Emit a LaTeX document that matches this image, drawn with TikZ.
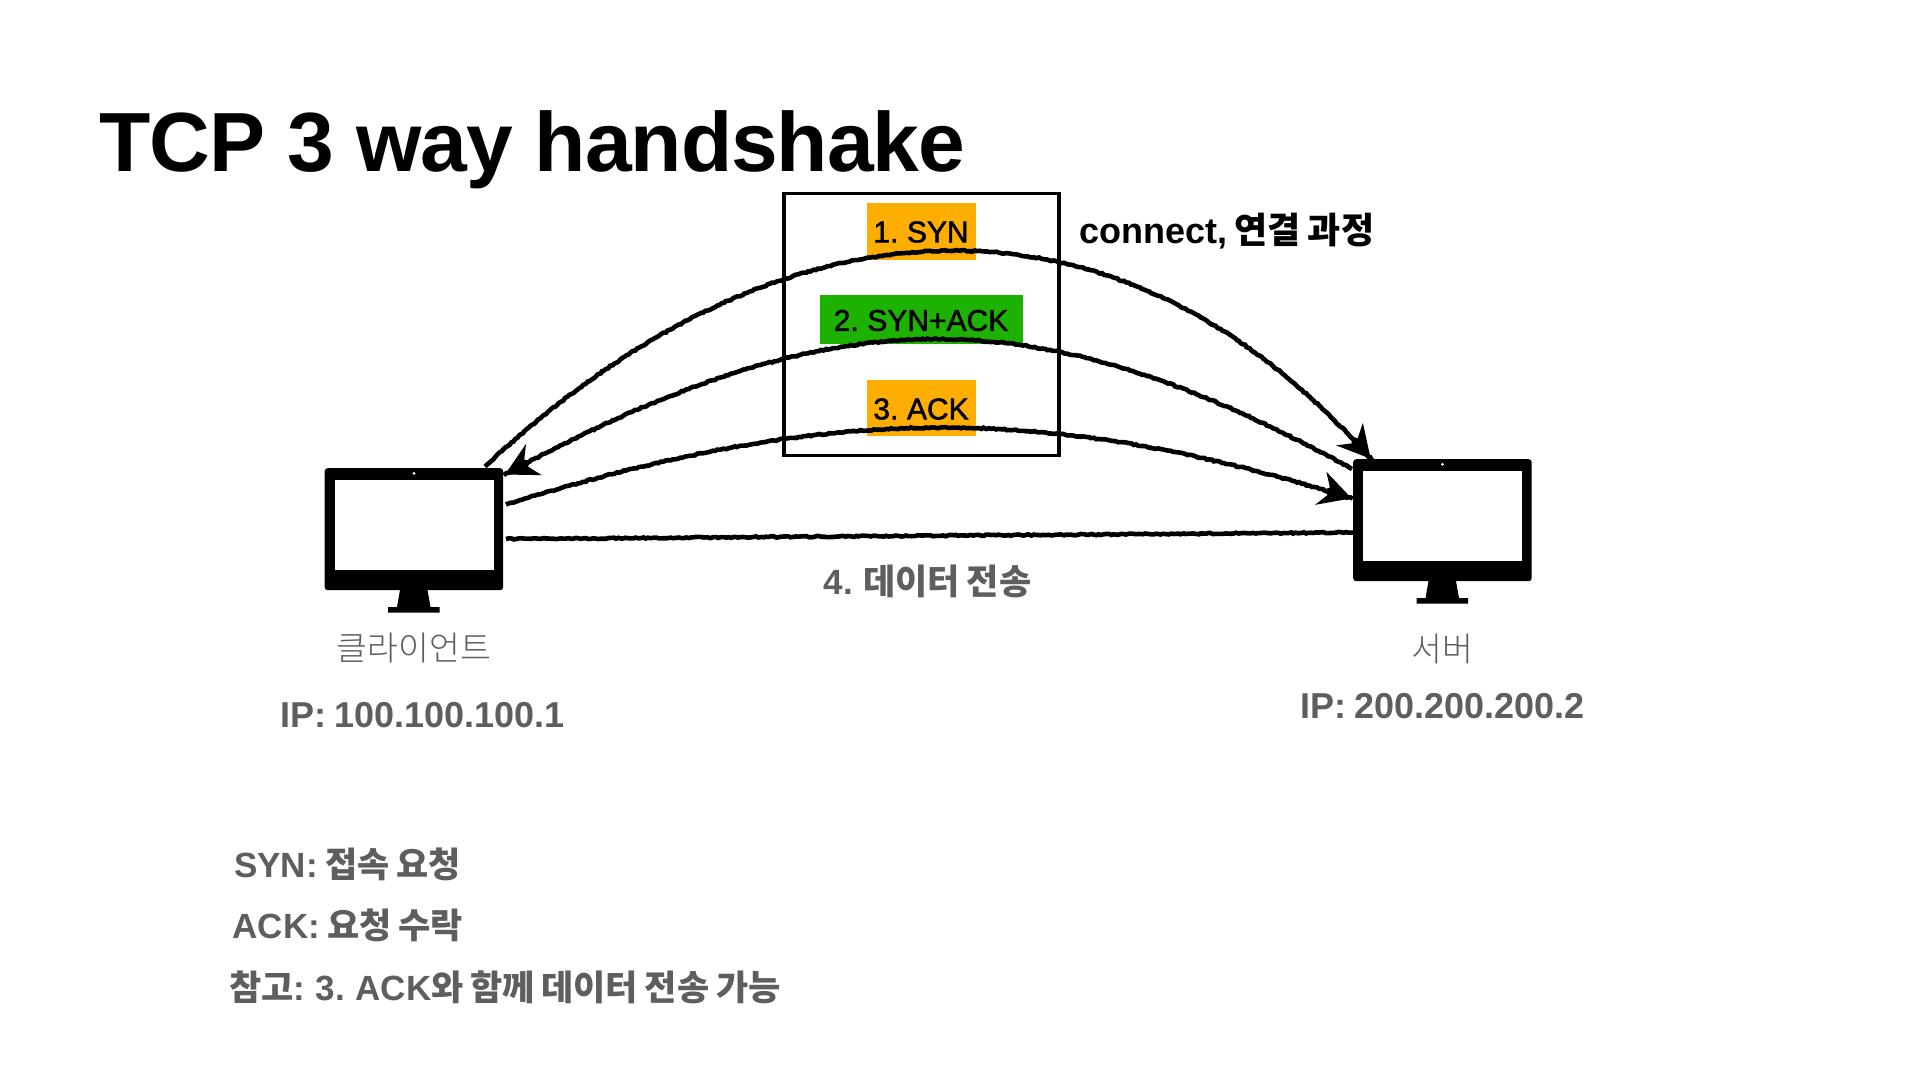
\documentclass[tikz,border=0pt]{standalone}
\usepackage{fontspec}
\setmainfont[WordSpace=.75]{Liberation Sans}
\newfontfamily\kr[WordSpace=.85]{Noto Sans CJK KR Medium}
\newfontfamily\krlight{Noto Sans CJK KR Light}
\newfontfamily\medfont[FakeBold=1.6,WordSpace=.7]{Liberation Sans}
\newfontfamily\titlefont[LetterSpace=-1.3]{Liberation Sans}
\usetikzlibrary{decorations.markings, decorations.pathmorphing}
\definecolor{packetorange}{HTML}{FEAE00}
\definecolor{packetgreen}{HTML}{1DB100}
\definecolor{labelgrey}{HTML}{5E5E5E}
\tikzset{
    rough/.style={
        draw, line width=4.6pt, decorate,
        decoration={random steps, segment length=2.5pt, amplitude=.7pt}
    },
    grain/.style={
        draw, line width=1pt, decorate,
        decoration={random steps, segment length=3pt, amplitude=1.6pt}
    },
    tipG/.style={
        decorate, decoration={markings,
            mark= at position 0.999 with
                {
                    \fill[black] (2pt,0pt) -- (-30pt,18pt) -- (-22pt,4pt) -- (-27pt,0pt) -- (-22pt,-4pt) -- (-31pt,-17pt) -- cycle;
                },
        }
    },
    packet/.style={inner sep=0pt, font=\fontsize{30}{36}\selectfont\medfont},
    screenbox/.style={fill=white, inner sep=0pt, minimum width=159pt, minimum height=90pt, anchor=north west},
    monitorbody/.style={fill=black, rounded corners=3pt, inner sep=0pt, minimum width=178.5pt, minimum height=122pt, anchor=north west},
    greylabel/.style={inner sep=0pt, text=labelgrey, font=\fontsize{35}{40}\selectfont\bfseries},
    iplabel/.style={greylabel, font=\fontsize{36}{40}\selectfont\bfseries},
    lightlabel/.style={inner sep=0pt, text=labelgrey, font=\fontsize{33.5}{38}\selectfont\krlight},
}
\begin{document}
\begin{tikzpicture}[x=1pt, y=-1pt]
    \fill[white] (0,0) rectangle (1920,1080);
    \useasboundingbox (0,0) rectangle (1920,1080);
    \pgfmathsetseed{11}
    \node[anchor=base west, inner sep=0pt, font=\fontsize{84}{96}\selectfont\titlefont\bfseries] (title) at (99,171) {TCP 3 way handshake};
    % packet boxes
    \node[draw, line width=3.5pt, minimum width=275pt, minimum height=262pt, inner sep=0pt] (frame) at (921.5,324.5) {};
    \node[fill=packetorange, minimum width=109pt, minimum height=57pt, inner sep=0pt] (syn) at (921.5,231.5) {};
    \node[fill=packetgreen, minimum width=203pt, minimum height=49pt, inner sep=0pt] (synack) at (921.5,319.5) {};
    \node[fill=packetorange, minimum width=109pt, minimum height=56pt, inner sep=0pt] (ack) at (921.5,408) {};
    % monitors
    \foreach \name/\mx/\my in {client/324.5/468, server/1353/459}{
        \begin{scope}[shift={(\mx,\my)}]
        \node[monitorbody] (\name) at (0,0) {};
        \node[screenbox] (\name screen) at (10,11.5) {};
        \fill[white] (89.5,5.3) circle (1.5);
        \fill[black] (75.5,122) -- (103,122) -- (106,139) -- (115,139) -- (115,144.6) -- (63.5,144.6) -- (63.5,139) -- (72.5,139) -- cycle;
        \end{scope}
    }
    % connector ends
    \coordinate (a1) at (485,466.5);
    \coordinate (a2) at (1370,458);
    \coordinate (a3) at (1352,469);
    \coordinate (a4) at (506,474);
    \coordinate (a5) at (506,504.5);
    \coordinate (a6) at (1350.5,498);
    \coordinate (a7) at (506,539);
    \coordinate (a8) at (1353,532.5);
    \draw[rough] (a1) .. controls (792,180) and (1124,180) .. (a2);
    \draw[grain] (a1) .. controls (792,180) and (1124,180) .. (a2);
    \path[tipG] (a1) .. controls (792,180) and (1124,180) .. (a2);
    \draw[rough] (a3) .. controls (1036,295) and (837,295) .. (a4);
    \draw[grain] (a3) .. controls (1036,295) and (837,295) .. (a4);
    \path[tipG] (a3) .. controls (1036,295) and (837,295) .. (a4);
    \draw[rough] (a5) .. controls (833,403) and (1044,403) .. (a6);
    \draw[grain] (a5) .. controls (833,403) and (1044,403) .. (a6);
    \path[tipG] (a5) .. controls (833,403) and (1044,403) .. (a6);
    \draw[rough] (a7) -- (a8);
    \draw[grain] (a7) -- (a8);
    % labels
    \node[packet] (synlabel) at (921,232) {1. SYN};
    \node[packet] (synacklabel) at (921,320.5) {2. SYN+ACK};
    \node[packet] (acklabel) at (921,409) {3. ACK};
    \node[anchor=west, inner sep=0pt, font=\fontsize{36}{40}\selectfont\bfseries] (connect) at (1079,231.5) {connect, {\kr 연결 과정}};
    \node[greylabel] (data) at (927.5,581.5) {4. {\kr 데이터 전송}};
    \node[lightlabel] (clientname) at (414,648) {클라이언트};
    \node[lightlabel] (servername) at (1442.5,649) {서버};
    \node[iplabel] (clientip) at (422.5,715) {IP: 100.100.100.1};
    \node[iplabel] (serverip) at (1442.5,706.5) {IP: 200.200.200.2};
    \node[greylabel, anchor=west] (note1) at (234,864.5) {SYN: {\kr 접속 요청}};
    \node[greylabel, anchor=west] (note2) at (232.5,925.5) {ACK: {\kr 요청 수락}};
    \node[greylabel, anchor=west] (note3) at (229,987) {{\kr 참고}: 3. ACK{\kr 와 함께 데이터 전송 가능}};
\end{tikzpicture}
\end{document}
